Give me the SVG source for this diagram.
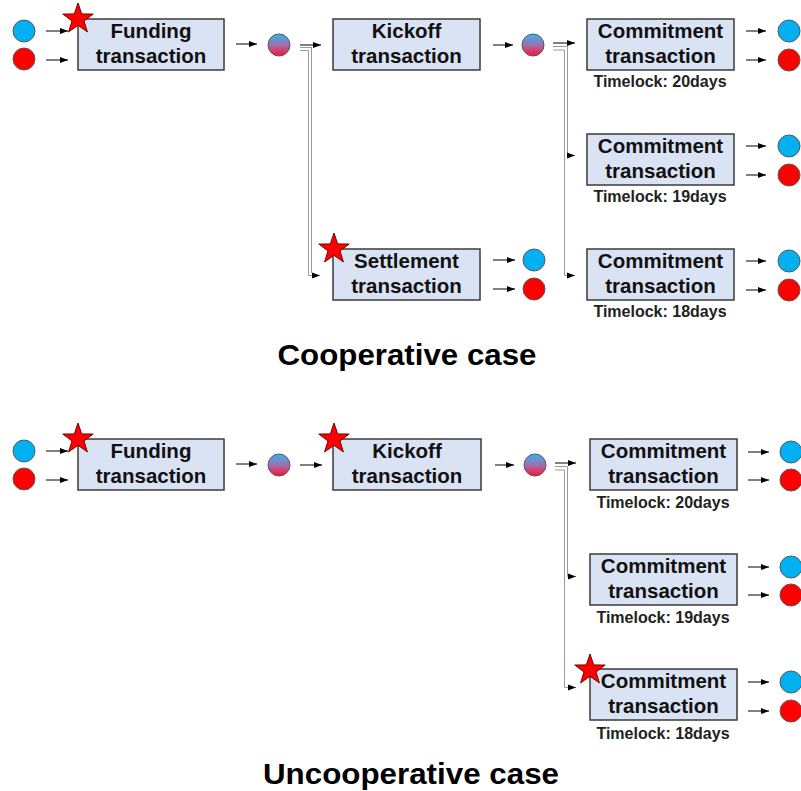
<svg xmlns="http://www.w3.org/2000/svg" width="801" height="791" viewBox="0 0 801 791">
<style>
.box{fill:#dae3f3;stroke:#3a3a3a;stroke-width:1.5}
.t{font-family:"Liberation Sans",Arial,sans-serif;font-weight:bold;font-size:20.5px;fill:#111;text-anchor:middle}
.tl{font-family:"Liberation Sans",Arial,sans-serif;font-weight:bold;font-size:16px;fill:#222;text-anchor:middle}
.title{font-family:"Liberation Sans",Arial,sans-serif;font-weight:bold;font-size:30px;fill:#000;text-anchor:middle}
.blue{fill:#00b0f0;stroke:#5a5a5a;stroke-width:1}
.red{fill:#ff0000;stroke:#5a5a5a;stroke-width:1}
.mix{fill:url(#g);stroke:#5a5a5a;stroke-width:1}
.ar{fill:none;stroke:#000;stroke-width:1;marker-end:url(#ah)}
.gl{fill:none;stroke:#9a9a9a;stroke-width:1}
.ga{fill:none;stroke:#9a9a9a;stroke-width:1;marker-end:url(#ah)}
.star{fill:#ff0000;stroke:#7a0000;stroke-width:1}
</style>
<defs>
<linearGradient id="g" x1="0" y1="0" x2="0" y2="1">
<stop offset="0" stop-color="#30b4f0"/>
<stop offset="0.5" stop-color="#a070b0"/>
<stop offset="1" stop-color="#ff1030"/>
</linearGradient>
<marker id="ah" viewBox="0 0 8 8" refX="8" refY="4" markerWidth="8" markerHeight="8" markerUnits="userSpaceOnUse" orient="auto">
<path d="M0,1 L8,4 L0,7 Z" fill="#000"/>
</marker>
<path id="st" class="star" d="M0,-16 L3.7,-5.1 L15.22,-4.94 L5.99,1.95 L9.4,12.94 L0,6.3 L-9.4,12.94 L-5.99,1.95 L-15.22,-4.94 L-3.7,-5.1 Z"/>
</defs>

<g id="connectors">
<!-- top -->
<path class="ar" d="M46,31 H68"/>
<path class="ar" d="M46,60 H68"/>
<path class="ar" d="M236,44 H257"/>
<path class="ar" d="M300,45 H321"/>
<path class="gl" d="M300,47.5 H311.5 V273"/>
<path class="ga" d="M300,50.5 H308.5 V275.5 H320"/>
<path class="ar" d="M553,43 H575"/>
<path class="ga" d="M553,46.5 H567.5 V155.5 H575"/>
<path class="ga" d="M553,50 H564.5 V275.5 H575"/>
<path class="ar" d="M493,45 H513"/>
<path class="ar" d="M493,260 H515"/>
<path class="ar" d="M493,289 H515"/>
<path class="ar" d="M746,31 H766"/>
<path class="ar" d="M746,60 H766"/>
<path class="ar" d="M746,146 H766"/>
<path class="ar" d="M746,175 H766"/>
<path class="ar" d="M746,261 H766"/>
<path class="ar" d="M746,290 H766"/>
<!-- bottom -->
<path class="ar" d="M46,451 H68"/>
<path class="ar" d="M46,480 H68"/>
<path class="ar" d="M236,464 H257"/>
<path class="ar" d="M300,465 H322"/>
<path class="ar" d="M495,465 H514"/>
<path class="ar" d="M555,463 H576"/>
<path class="ga" d="M555,466.5 H567.5 V576.5 H576"/>
<path class="ga" d="M555,470 H564.5 V687.5 H576"/>
<path class="ar" d="M748,452 H769"/>
<path class="ar" d="M748,480 H769"/>
<path class="ar" d="M748,567 H769"/>
<path class="ar" d="M748,595 H769"/>
<path class="ar" d="M748,682 H769"/>
<path class="ar" d="M748,711 H769"/>
</g>

<!-- TOP: Cooperative case -->
<g id="in-blue-1"><circle class="blue" cx="24" cy="31" r="11"/></g>
<g id="in-red-1"><circle class="red" cx="24" cy="59" r="11"/></g>
<g id="funding-1">
<rect class="box" x="78" y="19" width="146" height="51"/>
<text class="t" x="151" y="38">Funding</text>
<text class="t" x="151" y="63">transaction</text>
<use href="#st" x="78" y="19"/>
</g>
<g id="mix-1"><circle class="mix" cx="279" cy="45" r="11"/></g>
<g id="kickoff-1">
<rect class="box" x="333" y="19" width="147" height="51"/>
<text class="t" x="406.5" y="38">Kickoff</text>
<text class="t" x="406.5" y="63">transaction</text>
</g>
<g id="mix-2"><circle class="mix" cx="533" cy="45" r="11"/></g>
<g id="settlement">
<rect class="box" x="333" y="249" width="147" height="51"/>
<text class="t" x="406.5" y="268">Settlement</text>
<text class="t" x="406.5" y="293">transaction</text>
<use href="#st" x="334" y="249"/>
</g>
<g id="settle-out"><circle class="blue" cx="534" cy="260" r="11"/><circle class="red" cx="534" cy="289" r="11"/></g>
<g id="commit-1a">
<rect class="box" x="587" y="19" width="147" height="51"/>
<text class="t" x="660.5" y="38">Commitment</text>
<text class="t" x="660.5" y="63">transaction</text>
<text class="tl" x="660" y="87">Timelock: 20days</text>
</g>
<g id="commit-1b">
<rect class="box" x="587" y="134" width="147" height="51"/>
<text class="t" x="660.5" y="153">Commitment</text>
<text class="t" x="660.5" y="178">transaction</text>
<text class="tl" x="660" y="202">Timelock: 19days</text>
</g>
<g id="commit-1c">
<rect class="box" x="587" y="249" width="147" height="51"/>
<text class="t" x="660.5" y="268">Commitment</text>
<text class="t" x="660.5" y="293">transaction</text>
<text class="tl" x="660" y="317">Timelock: 18days</text>
</g>
<g id="commit-1-out">
<circle class="blue" cx="789" cy="31" r="11"/><circle class="red" cx="789" cy="60" r="11"/>
<circle class="blue" cx="789" cy="146" r="11"/><circle class="red" cx="789" cy="175" r="11"/>
<circle class="blue" cx="789" cy="261" r="11"/><circle class="red" cx="789" cy="290" r="11"/>
</g>
<g id="title-1"><text class="title" x="407" y="365" textLength="259" lengthAdjust="spacingAndGlyphs">Cooperative case</text></g>

<!-- BOTTOM: Uncooperative case -->
<g id="in-blue-2"><circle class="blue" cx="24" cy="451" r="11"/></g>
<g id="in-red-2"><circle class="red" cx="24" cy="479" r="11"/></g>
<g id="funding-2">
<rect class="box" x="78" y="439" width="146" height="51"/>
<text class="t" x="151" y="458">Funding</text>
<text class="t" x="151" y="483">transaction</text>
<use href="#st" x="78" y="439"/>
</g>
<g id="mix-3"><circle class="mix" cx="279" cy="465" r="11"/></g>
<g id="kickoff-2">
<rect class="box" x="333" y="439" width="148" height="51"/>
<text class="t" x="407" y="458">Kickoff</text>
<text class="t" x="407" y="483">transaction</text>
<use href="#st" x="334" y="439"/>
</g>
<g id="mix-4"><circle class="mix" cx="535" cy="465" r="11"/></g>
<g id="commit-2a">
<rect class="box" x="590" y="439" width="147" height="51"/>
<text class="t" x="663.5" y="458">Commitment</text>
<text class="t" x="663.5" y="483">transaction</text>
<text class="tl" x="663" y="508">Timelock: 20days</text>
</g>
<g id="commit-2b">
<rect class="box" x="590" y="554" width="147" height="51"/>
<text class="t" x="663.5" y="573">Commitment</text>
<text class="t" x="663.5" y="598">transaction</text>
<text class="tl" x="663" y="623">Timelock: 19days</text>
</g>
<g id="commit-2c">
<rect class="box" x="590" y="669" width="147" height="51"/>
<text class="t" x="663.5" y="688">Commitment</text>
<text class="t" x="663.5" y="713">transaction</text>
<text class="tl" x="663" y="739">Timelock: 18days</text>
<use href="#st" x="590" y="670"/>
</g>
<g id="commit-2-out">
<circle class="blue" cx="791" cy="452" r="11"/><circle class="red" cx="791" cy="480" r="11"/>
<circle class="blue" cx="791" cy="567" r="11"/><circle class="red" cx="791" cy="595" r="11"/>
<circle class="blue" cx="791" cy="682" r="11"/><circle class="red" cx="791" cy="711" r="11"/>
</g>
<g id="title-2"><text class="title" x="411" y="784" textLength="296" lengthAdjust="spacingAndGlyphs">Uncooperative case</text></g>
</svg>
